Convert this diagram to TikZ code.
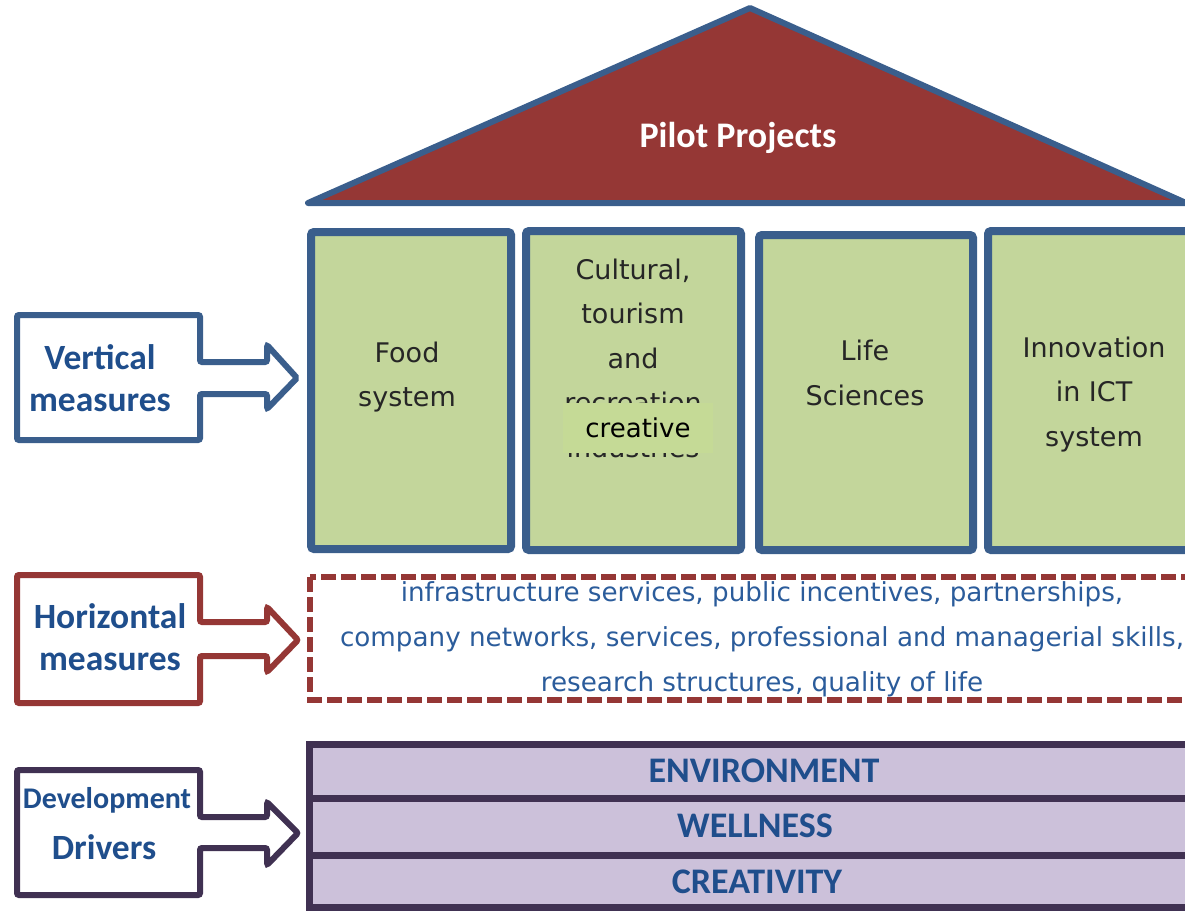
\documentclass[tikz,border=0pt]{standalone}
\usepackage{fontspec}
\setmainfont{DejaVu Sans}
\newfontfamily\carlito{Carlito}
\definecolor{bline}{HTML}{3A5E8C}
\definecolor{gfill}{HTML}{C3D69B}
\definecolor{ovfill}{HTML}{C5DA96}
\definecolor{rline}{HTML}{953735}
\definecolor{pline}{HTML}{403152}
\definecolor{pfill}{HTML}{CCC1DA}
\definecolor{lblue}{HTML}{1F4E8C}
\definecolor{htext}{HTML}{2B5C9B}
\definecolor{gtext}{HTML}{262626}
\tikzset{
  pillar/.style={draw=bline, fill=gfill, line width=8pt, rounded corners=3pt},
  pillartext/.style={align=center, text=gtext, font=\fontsize{27}{44.5}\selectfont},
  lbl/.style={align=center, text=lblue, font=\carlito\bfseries\fontsize{35.5}{42}\selectfont},
  band/.style={draw=pline, fill=pfill, line width=7pt},
  bandtext/.style={text=lblue, font=\carlito\bfseries\fontsize{36}{40}\selectfont},
  arrowbox/.style={line width=6pt, rounded corners=2pt, fill=white},
}
\begin{document}
\begin{tikzpicture}[x=1pt,y=-1pt]
\useasboundingbox (0,0) rectangle (1185,910);
\clip (0,0) rectangle (1185,910);
% roof
\draw[fill=rline, draw=bline, line width=6pt, line join=round] (308,203) -- (750,8) -- (1186,203) -- cycle;
\node[text=white, font=\carlito\bfseries\fontsize{36}{40}\selectfont] (roof) at (738,138) {Pilot Projects};
% pillars
\path[pillar] (311,232) rectangle (511,549);
\path[pillar] (526,231) rectangle (741,550);
\path[pillar] (759,235) rectangle (973,550);
\path[pillar] (988,231) rectangle (1200,550);
\node[pillartext] (food) at (407,377) {Food\\system};
\node[pillartext] (cult) at (633,358) {Cultural,\\tourism\\and\\recreation\\industries};
\node[fill=ovfill, minimum width=150pt, minimum height=50pt, inner sep=0pt, font=\fontsize{26}{30}\selectfont] (creative) at (638,428) {creative};
\node[pillartext] (life) at (865,373) {Life\\Sciences};
\node[pillartext] (ict) at (1094,394.5) {Innovation\\in ICT\\system};
% horizontal dashed box
\draw[draw=rline, line width=6pt, dash pattern=on 15pt off 5pt] (310,577) rectangle (1200,700);
\node[align=center, text=htext, font=\fontsize{26.2}{45}\selectfont] (hz) at (762,639) {infrastructure services, public incentives, partnerships,\\company networks, services, professional and managerial skills,\\research structures, quality of life};
% bands
\path[band] (309,744) rectangle (1200,798);
\path[band] (309,798) rectangle (1200,855);
\path[band] (309,855) rectangle (1200,907);
\node[bandtext] (env) at (764,771) {ENVIRONMENT};
\node[bandtext] (well) at (755,826) {WELLNESS};
\node[bandtext] (crea) at (757,882) {CREATIVITY};
% left arrow boxes
\draw[arrowbox, draw=bline] (17,315) -- (200,315) -- (200,362) -- (267,362) -- (267,345) -- (297,378) -- (267,409) -- (267,394) -- (200,394) -- (200,440) -- (17,440) -- cycle;
\node[lbl] (vert) at (100,378) {Vertical\\measures};
\draw[arrowbox, draw=rline] (17,575) -- (200,575) -- (200,622) -- (267,622) -- (267,607) -- (298,640) -- (267,672) -- (267,656) -- (200,656) -- (200,703) -- (17,703) -- cycle;
\node[lbl] (horiz) at (110,637.5) {Horizontal\\measures};
\draw[arrowbox, draw=pline] (17,770) -- (200,770) -- (200,817) -- (267,817) -- (267,802) -- (298,833) -- (267,865) -- (267,848) -- (200,848) -- (200,895) -- (17,895) -- cycle;
\node[lbl, font=\carlito\bfseries\fontsize{30}{34}\selectfont] (devel) at (107,800) {Development};
\node[lbl] (driv) at (104,847) {Drivers};
\end{tikzpicture}
\end{document}
